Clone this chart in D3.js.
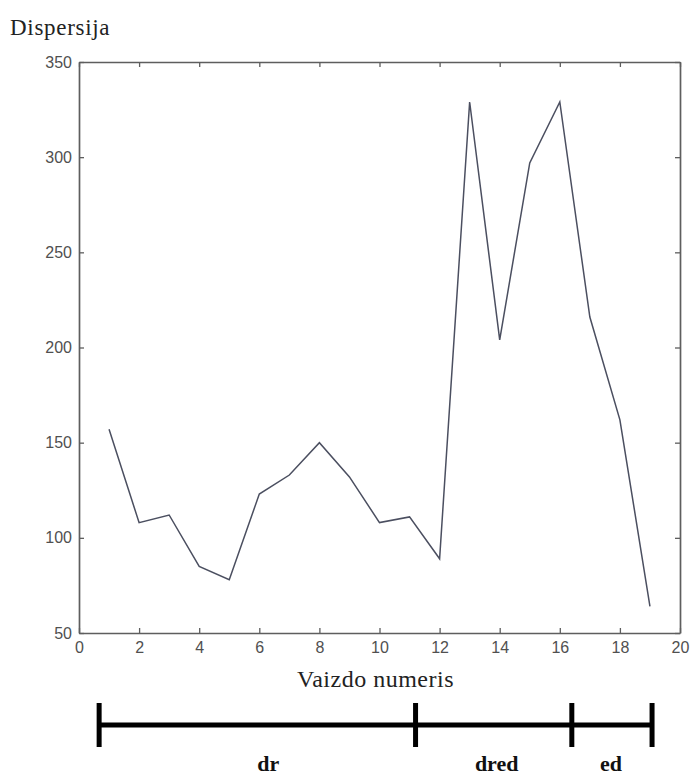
<!DOCTYPE html>
<html>
<head>
<meta charset="utf-8">
<script src="https://cdn.jsdelivr.net/npm/d3@7"></script>
<style>
  html, body { margin: 0; padding: 0; background: #fff; }
  svg { display: block; }
</style>
</head>
<body>
<svg id="chart" width="691" height="778"></svg>
<script>
// Frame numbers and the dispersion measured for each frame
const frames = [1, 2, 3, 4, 5, 6, 7, 8, 9, 10, 11, 12, 13, 14, 15, 16, 17, 18, 19];
const dispersion = [157, 108, 112, 85, 78, 123, 133, 150, 132, 108, 111, 89, 329, 204, 297, 329, 216, 162, 64];

const xTicks = [0, 2, 4, 6, 8, 10, 12, 14, 16, 18, 20];
const yTicks = [50, 100, 150, 200, 250, 300, 350];

// Phase segments shown below the axis (in frame units)
const segmentBounds = [0.67, 11.2, 16.4, 19.07];
const segmentNames = ["dr", "dred", "ed"];
const segmentLabelAt = [6.3, 13.9, 17.7];

const svg = d3.select("#chart");
const margin = { left: 79, right: 11, top: 62, bottom: 145 };
const W = 691, H = 778;

const x = d3.scaleLinear().domain([0, 20]).range([margin.left, W - margin.right]);
const y = d3.scaleLinear().domain([50, 350]).range([H - margin.bottom, margin.top]);

const axisColor = "#5e5e5e";
const tickFont = "Liberation Sans, Arial, sans-serif";
const serif = "Liberation Serif, Times New Roman, serif";

// Axes with inward ticks on all four sides (boxed plot)
function styleAxis(g) {
  g.select(".domain").attr("stroke", axisColor).attr("stroke-width", 1.7);
  g.selectAll(".tick line").attr("stroke", axisColor).attr("stroke-width", 1.3);
  g.selectAll(".tick text")
    .attr("fill", "#505050")
    .style("font-family", tickFont)
    .style("font-size", "16px");
}

svg.append("g")
  .attr("transform", `translate(0,${y(50)})`)
  .call(d3.axisBottom(x).tickValues(xTicks).tickSizeInner(-5).tickSizeOuter(0).tickPadding(9))
  .call(styleAxis);

svg.append("g")
  .attr("transform", `translate(0,${y(350)})`)
  .call(d3.axisTop(x).tickValues(xTicks).tickSizeInner(-5).tickSizeOuter(0).tickFormat(""))
  .call(styleAxis);

svg.append("g")
  .attr("transform", `translate(${x(0)},0)`)
  .call(d3.axisLeft(y).tickValues(yTicks).tickSizeInner(-5).tickSizeOuter(0).tickPadding(7))
  .call(styleAxis);

svg.append("g")
  .attr("transform", `translate(${x(20)},0)`)
  .call(d3.axisRight(y).tickValues(yTicks).tickSizeInner(-5).tickSizeOuter(0).tickFormat(""))
  .call(styleAxis);

// Dispersion line
const line = d3.line()
  .x((d, i) => x(frames[i]))
  .y(d => y(d));

svg.append("path")
  .datum(dispersion)
  .attr("fill", "none")
  .attr("stroke", "#4b4f60")
  .attr("stroke-width", 1.5)
  .attr("stroke-linejoin", "miter")
  .attr("d", line);

// Axis titles
svg.append("text")
  .attr("x", 10).attr("y", 35)
  .style("font-family", serif)
  .style("font-size", "23px")
  .style("letter-spacing", "0.7px")
  .attr("fill", "#222")
  .text("Dispersija");

svg.append("text")
  .attr("x", x(10) - 4).attr("y", 687)
  .attr("text-anchor", "middle")
  .style("font-family", serif)
  .style("font-size", "24px")
  .style("letter-spacing", "0.5px")
  .attr("fill", "#222")
  .text("Vaizdo numeris");

// Phase bracket below the chart
const bracketY = 725;
const bracket = svg.append("g");

bracket.append("line")
  .attr("x1", x(segmentBounds[0])).attr("x2", x(segmentBounds[segmentBounds.length - 1]))
  .attr("y1", bracketY).attr("y2", bracketY)
  .attr("stroke", "#000").attr("stroke-width", 5);

bracket.selectAll("line.cap")
  .data(segmentBounds)
  .join("line")
  .attr("class", "cap")
  .attr("x1", d => x(d)).attr("x2", d => x(d))
  .attr("y1", bracketY - 22).attr("y2", bracketY + 22)
  .attr("stroke", "#000").attr("stroke-width", 5);

bracket.selectAll("text.seg")
  .data(segmentNames)
  .join("text")
  .attr("class", "seg")
  .attr("x", (d, i) => x(segmentLabelAt[i]))
  .attr("y", 771)
  .attr("text-anchor", "middle")
  .style("font-family", serif)
  .style("font-weight", "bold")
  .style("font-size", "22px")
  .attr("fill", "#111")
  .text(d => d);
</script>
</body>
</html>
